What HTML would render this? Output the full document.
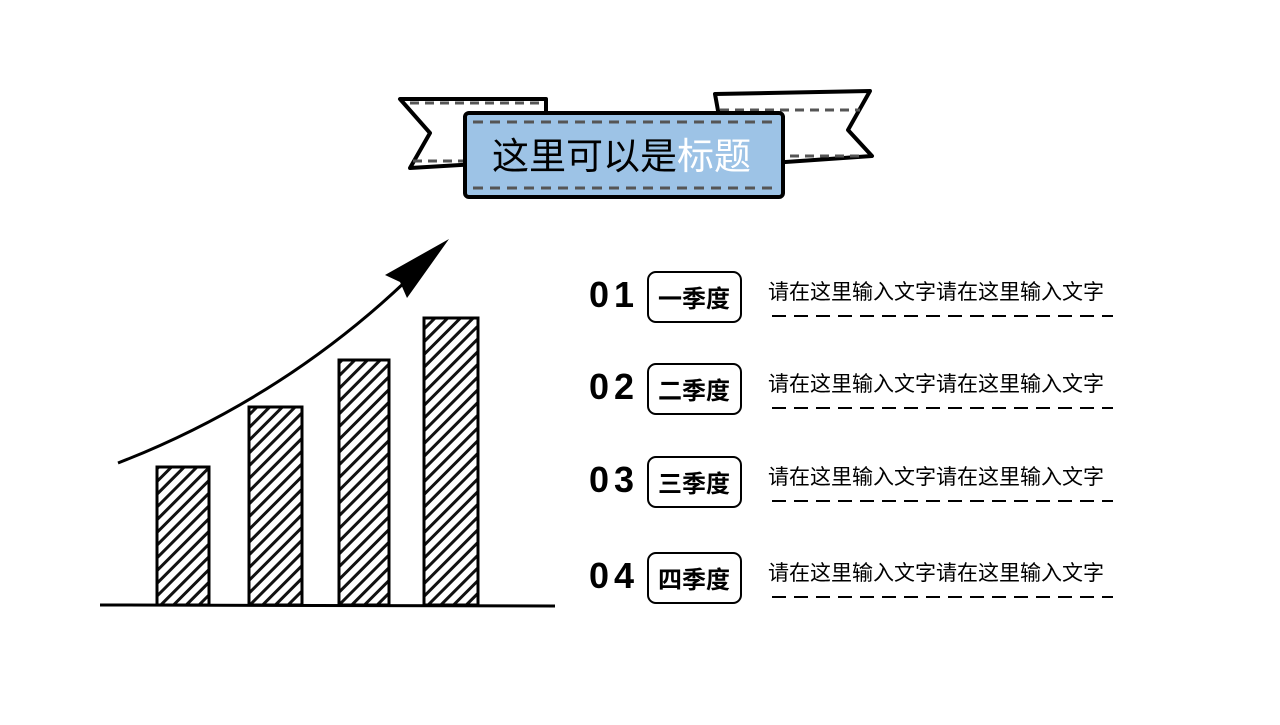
<!DOCTYPE html>
<html><head><meta charset="utf-8"><style>
body{margin:0;background:#fff;width:1280px;height:720px;overflow:hidden}
svg text{font-family:"Liberation Sans","Noto Sans CJK SC",sans-serif}
</style></head><body>
<svg width="1280" height="720" viewBox="0 0 1280 720">
<defs>
<pattern id="h" width="9" height="9" patternUnits="userSpaceOnUse" patternTransform="rotate(45)">
<rect width="9" height="9" fill="#fff"/><rect width="3" height="9" fill="#111"/>
</pattern>
</defs>
<polygon points="400,99 546,99 546,160 410,168 430,133" fill="#fff" stroke="#000" stroke-width="4" stroke-linejoin="round"/>
<polygon points="715,94 870,91 848,130 872,156 728,166" fill="#fff" stroke="#000" stroke-width="4" stroke-linejoin="round"/>
<path d="M410,103 H540 M413,161 H470 M720,110 H860 M790,156 H865" stroke="#555" stroke-width="3" stroke-dasharray="9,6" fill="none"/>
<rect x="465" y="113" width="318" height="84" rx="4" fill="#9dc3e6" stroke="#000" stroke-width="4"/>
<path d="M473,122 H776 M473,188 H776" stroke="#555" stroke-width="3" stroke-dasharray="10,7" fill="none"/>
<text x="492" y="169" font-size="37"><tspan fill="#000">这里可以是</tspan><tspan fill="#fff">标题</tspan></text>
<line x1="100" y1="605" x2="555" y2="606" stroke="#000" stroke-width="3"/>
<rect x="157" y="467" width="52" height="138" fill="url(#h)" stroke="#000" stroke-width="3"/>
<rect x="249" y="407" width="53" height="198" fill="url(#h)" stroke="#000" stroke-width="3"/>
<rect x="339" y="360" width="50" height="245" fill="url(#h)" stroke="#000" stroke-width="3"/>
<rect x="424" y="318" width="54" height="287" fill="url(#h)" stroke="#000" stroke-width="3"/>
<path d="M118,463 Q280,400 405,282" stroke="#000" stroke-width="3" fill="none"/>
<polygon points="449,239 385,275 400,282 407,298 417,284" fill="#000"/>
<g font-size="21">
<g>
<text x="589" y="307" font-size="36" font-weight="bold" letter-spacing="5">01</text>
<rect x="648" y="272" width="93" height="50" rx="8" fill="none" stroke="#000" stroke-width="2"/>
<text x="658" y="307" font-size="24" font-weight="bold">一季度</text>
<text x="768" y="299">请在这里输入文字请在这里输入文字</text>
<line x1="772" y1="316" x2="1113" y2="316" stroke="#000" stroke-width="2" stroke-dasharray="14,8"/>
</g>
<g transform="translate(0,92)">
<text x="589" y="307" font-size="36" font-weight="bold" letter-spacing="5">02</text>
<rect x="648" y="272" width="93" height="50" rx="8" fill="none" stroke="#000" stroke-width="2"/>
<text x="658" y="307" font-size="24" font-weight="bold">二季度</text>
<text x="768" y="299">请在这里输入文字请在这里输入文字</text>
<line x1="772" y1="316" x2="1113" y2="316" stroke="#000" stroke-width="2" stroke-dasharray="14,8"/>
</g>
<g transform="translate(0,185)">
<text x="589" y="307" font-size="36" font-weight="bold" letter-spacing="5">03</text>
<rect x="648" y="272" width="93" height="50" rx="8" fill="none" stroke="#000" stroke-width="2"/>
<text x="658" y="307" font-size="24" font-weight="bold">三季度</text>
<text x="768" y="299">请在这里输入文字请在这里输入文字</text>
<line x1="772" y1="316" x2="1113" y2="316" stroke="#000" stroke-width="2" stroke-dasharray="14,8"/>
</g>
<g transform="translate(0,281)">
<text x="589" y="307" font-size="36" font-weight="bold" letter-spacing="5">04</text>
<rect x="648" y="272" width="93" height="50" rx="8" fill="none" stroke="#000" stroke-width="2"/>
<text x="658" y="307" font-size="24" font-weight="bold">四季度</text>
<text x="768" y="299">请在这里输入文字请在这里输入文字</text>
<line x1="772" y1="316" x2="1113" y2="316" stroke="#000" stroke-width="2" stroke-dasharray="14,8"/>
</g>
</g>
</svg>
</body></html>
